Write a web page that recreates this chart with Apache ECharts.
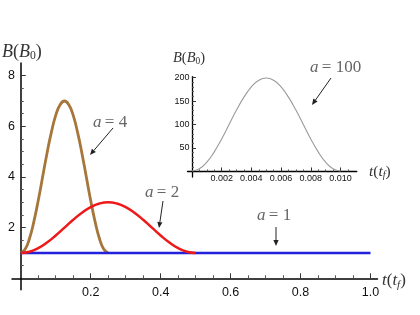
<!DOCTYPE html>
<html><head><meta charset="utf-8">
<script src="https://cdn.jsdelivr.net/npm/echarts@6/dist/echarts.min.js"></script>
<style>html,body{margin:0;padding:0;background:#fff}#c{width:420px;height:315px}</style>
</head><body><div id="c"></div>
<script>
// ---- data ----
const a1T = [0, 1];
const a1B = [1, 1];
const a2T = [0,0.025,0.05,0.075,0.1,0.125,0.15,0.175,0.2,0.225,0.25,0.275,0.3,0.325,0.35,0.375,0.4,0.425,0.45,0.475,0.5];
const a2B = [1,1.05,1.19,1.41,1.69,2.0,2.31,2.59,2.81,2.95,3.0,2.95,2.81,2.59,2.31,2.0,1.69,1.41,1.19,1.05,1];
const a4T = [0,0.0125,0.025,0.0375,0.05,0.0625,0.075,0.0875,0.1,0.1125,0.125,0.1375,0.15,0.1625,0.175,0.1875,0.2,0.2125,0.225,0.2375,0.25];
const a4B = [1,1.15,1.57,2.24,3.07,4.0,4.93,5.76,6.43,6.85,7.0,6.85,6.43,5.76,4.93,4.0,3.07,2.24,1.57,1.15,1];
const a100T = [0,0.0005,0.001,0.0015,0.002,0.0025,0.003,0.0035,0.004,0.0045,0.005,0.0055,0.006,0.0065,0.007,0.0075,0.008,0.0085,0.009,0.0095,0.01];
const a100B = [1,5.8,19.9,41.8,69.3,100,130.7,158.2,180.1,194.2,199,194.2,180.1,158.2,130.7,100,69.3,41.8,19.9,5.8,1];

const mainXTicks = [0.2,0.4,0.6,0.8,1.0];
const mainXMinor = [0.05,0.1,0.15,0.25,0.3,0.35,0.45,0.5,0.55,0.65,0.7,0.75,0.85,0.9,0.95];
const mainYTicks = [2,4,6,8];
const mainYMinor = [0.5,1,1.5,2.5,3,3.5,4.5,5,5.5,6.5,7,7.5];
const insetXTicks = [0.002,0.004,0.006,0.008,0.010];
const insetXMinor = [0.0005,0.001,0.0015,0.0025,0.003,0.0035,0.0045,0.005,0.0055,0.0065,0.007,0.0075,0.0085,0.009,0.0095,0.0105];
const insetYTicks = [50,100,150,200];
const insetYMinor = [10,20,30,40,60,70,80,90,110,120,130,140,160,170,180,190];

const pair = (t, b) => t.map((v, i) => [v, b[i]]);

const lblFont = 'Liberation Sans';
const serif = 'Liberation Serif';

function mkAxis(dim, gridIndex, min, max, major, minor, opts) {
  const base = {
    type: 'value', gridIndex, min, max, position: dim === 'x' ? 'bottom' : 'left',
    splitLine: {show: false},
    axisLine: {show: true, onZero: true, lineStyle: {color: '#000', width: opts.lw}}
  };
  const a = Object.assign({}, base, {
    axisTick: {show: true, inside: true, length: opts.majLen, customValues: major, lineStyle: {color: '#333', width: 1}},
    axisLabel: {show: true, customValues: major, margin: opts.margin, color: '#111',
      fontFamily: lblFont, fontSize: opts.fs, formatter: opts.fmt, showMinLabel: true, showMaxLabel: true, hideOverlap: false}
  });
  const b = Object.assign({}, base, {
    axisLine: {show: true, onZero: true, lineStyle: {color: '#000', width: opts.lw, opacity: 0}},
    axisTick: {show: true, inside: true, length: opts.minLen, customValues: minor, lineStyle: {color: '#555', width: 1}},
    axisLabel: {show: false}
  });
  return [a, b];
}

const xAxes = [].concat(
  mkAxis('x', 0, -0.025, 1.02, mainXTicks, mainXMinor, {lw: 1.5, majLen: 5, minLen: 3, margin: -4, fs: 12.5, fmt: v => v.toFixed(1)}),
  mkAxis('x', 1, -0.0003, 0.0111, insetXTicks, insetXMinor, {lw: 1.3, majLen: 4, minLen: 2, margin: -2.6, fs: 9, fmt: v => v.toFixed(3)})
);
const yAxes = [].concat(
  mkAxis('y', 0, -0.45, 8.5, mainYTicks, mainYMinor, {lw: 1.5, majLen: 5, minLen: 3, margin: -3, fs: 12.5, fmt: v => String(v)}),
  mkAxis('y', 1, -12, 202, insetYTicks, insetYMinor, {lw: 1.3, majLen: 4, minLen: 2, margin: -2, fs: 9, fmt: v => String(v)})
);

function arrow(x1, y1, x2, y2) {
  const dx = x2 - x1, dy = y2 - y1, L = Math.hypot(dx, dy);
  const ux = dx / L, uy = dy / L, hl = 6, hw = 2.6;
  const bx = x2 - ux * hl, by = y2 - uy * hl;
  return [
    {type: 'line', shape: {x1, y1, x2: bx, y2: by}, style: {stroke: '#222', lineWidth: 1}, silent: true},
    {type: 'polygon', shape: {points: [[x2, y2], [bx - uy * hw, by + ux * hw], [bx + uy * hw, by - ux * hw]]}, style: {fill: '#222'}, silent: true}
  ];
}
function ann(x, y, label, size) {
  return {type: 'text', x, y, silent: true, style: {
    text: '{i|a} {u|= ' + label + '}', verticalAlign: 'middle', align: 'left',
    rich: {i: {fontFamily: serif, fontStyle: 'italic', fontSize: size, fill: '#666'},
           u: {fontFamily: serif, fontSize: size, fill: '#666'}}}};
}
function title(x, y, main, inner, sub, size) {
  return {type: 'text', x, y, silent: true, style: {
    text: '{i|' + main + '}{u|(}{i|' + inner + '}{s|' + sub + '}{u|)}', verticalAlign: 'middle', align: 'left',
    rich: {i: {fontFamily: serif, fontStyle: 'italic', fontSize: size, fill: '#333'},
           u: {fontFamily: serif, fontSize: size, fill: '#333'},
           s: {fontFamily: serif, fontStyle: sub === 'f' ? 'italic' : 'normal', fontSize: size * 0.65, fill: '#333', padding: [size * 0.45, 0, 0, 0]}}}};
}

const graphics = [].concat(
  [title(2, 52, 'B', 'B', '0', 18), title(173, 58, 'B', 'B', '0', 14.5),
   title(382, 281, 't', 't', 'f', 17), title(369, 172, 't', 't', 'f', 15.5),
   ann(93, 123, '4', 17), ann(145, 193, '2', 17), ann(257, 216, '1', 17), ann(310, 68, '100', 17)],
  arrow(113, 128, 90, 155),
  arrow(163, 201, 159, 228),
  arrow(276, 227, 276, 246),
  arrow(331, 78, 312, 105)
);

const chart = echarts.init(document.getElementById('c'), null, {renderer: 'canvas'});
chart.setOption({
  animation: false,
  backgroundColor: '#fff',
  grid: [
    {left: 12, top: 63, width: 365.5, height: 226.7, containLabel: false, outerBoundsMode: 'none'},
    {left: 187.5, top: 76.6, width: 169.3, height: 100.5, containLabel: false, outerBoundsMode: 'none'}
  ],
  xAxis: xAxes,
  yAxis: yAxes,
  series: [
    {type: 'line', xAxisIndex: 0, yAxisIndex: 0, data: pair(a1T, a1B), showSymbol: false, lineStyle: {color: '#2222dd', width: 2.5}, z: 3},
    {type: 'line', xAxisIndex: 0, yAxisIndex: 0, data: pair(a4T, a4B), smooth: true, showSymbol: false, lineStyle: {color: '#a6763a', width: 2.8}, z: 2},
    {type: 'line', xAxisIndex: 0, yAxisIndex: 0, data: pair(a2T, a2B), smooth: true, showSymbol: false, lineStyle: {color: '#ee1a1a', width: 2.5}, z: 4},
    {type: 'line', xAxisIndex: 2, yAxisIndex: 2, data: pair(a100T, a100B), smooth: true, showSymbol: false, lineStyle: {color: '#9a9a9a', width: 1.1}, z: 2}
  ],
  graphic: graphics
});
</script></body></html>
